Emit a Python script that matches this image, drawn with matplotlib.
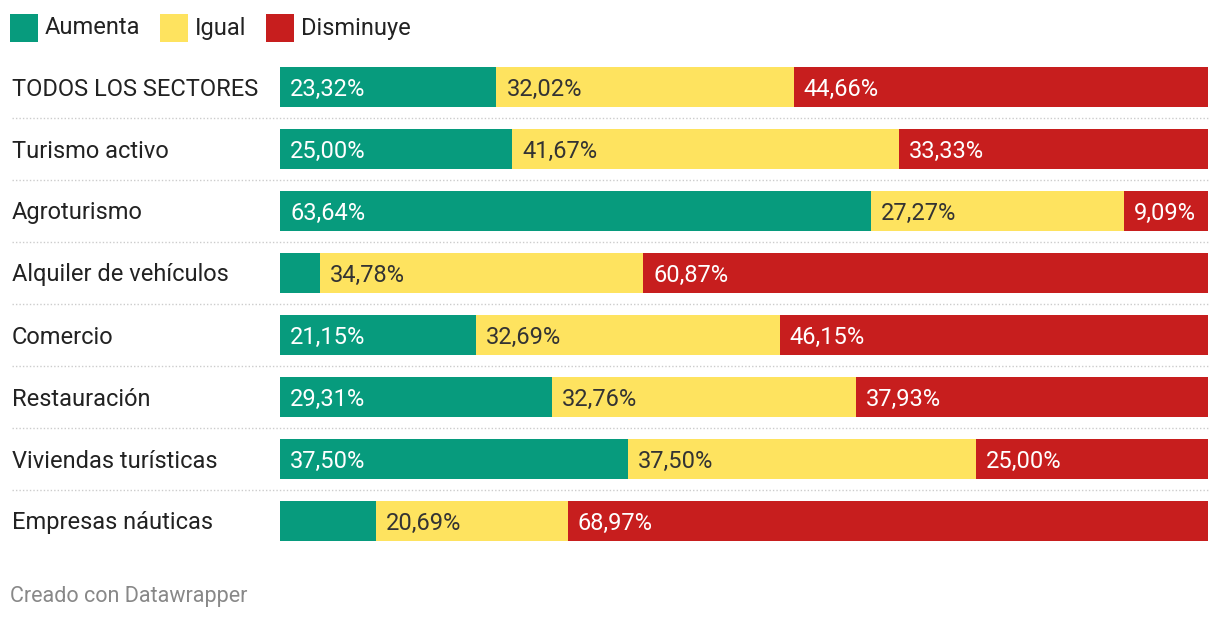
import matplotlib
matplotlib.use("Agg")
import matplotlib.pyplot as plt
from matplotlib.transforms import blended_transform_factory
from matplotlib.patches import Rectangle

plt.rcParams["font.family"] = ["Roboto", "DejaVu Sans"]

sectors = ["TODOS LOS SECTORES", "Turismo activo", "Agroturismo", "Alquiler de vehículos",
           "Comercio", "Restauración", "Viviendas turísticas", "Empresas náuticas"]
aumenta = [23.32, 25.00, 63.64, 4.35, 21.15, 29.31, 37.50, 10.34]
igual = [32.02, 41.67, 27.27, 34.78, 32.69, 32.76, 37.50, 20.69]
disminuye = [44.66, 33.33, 9.09, 60.87, 46.15, 37.93, 25.00, 68.97]
series_names = ["Aumenta", "Igual", "Disminuye"]
# labels that the original chart leaves out (segment too narrow)
hidden = {(3, 0), (7, 0)}

colors = ["#079b7d", "#fee35f", "#c71e1e"]
text_colors = ["white", "#333333", "white"]

W, H = 1220, 620
FS = 17
fig = plt.figure(figsize=(W / 100, H / 100), dpi=100)
fig.patch.set_facecolor("white")

# axes: x 280..1208 px, y 56..552 px (one row = 62 px)
ax = fig.add_axes([280 / W, 1 - 552 / H, (1208 - 280) / W, (552 - 56) / H])
ax.set_xlim(0, 100)
ax.set_ylim(len(sectors) - 0.5, -0.5)
ax.axis("off")

base_off = 8.5 / 62  # baseline sits half a cap height below the row centre

y = range(len(sectors))
left = [0] * len(sectors)
for s, vals in enumerate([aumenta, igual, disminuye]):
    ax.barh(y, vals, left=left, height=40 / 62, color=colors[s], linewidth=0)
    for i, v in enumerate(vals):
        if (i, s) in hidden:
            continue
        label = f"{v:.2f}%".replace(".", ",")
        ax.text(left[i] + 10 / 9.28, i + base_off, label, va="baseline", ha="left",
                fontsize=FS, color=text_colors[s])
    left = [l + v for l, v in zip(left, vals)]

# sector names
tr = blended_transform_factory(fig.transFigure, ax.transData)
for i, name in enumerate(sectors):
    ax.text(12 / W, i + base_off, name, transform=tr, va="baseline", ha="left",
            fontsize=FS, color="#222222")

# dotted separators between rows
for i in range(1, len(sectors)):
    ax.plot([12 / W, 1208 / W], [i - 0.5, i - 0.5], transform=tr, color="#cccccc",
            linewidth=1, linestyle=(0, (1, 1.5)), clip_on=False)

# legend
legend_x = [10, 160, 266]
for s, name in enumerate(series_names):
    x0 = legend_x[s]
    fig.add_artist(Rectangle((x0 / W, 1 - 42 / H), 28 / W, 28 / H,
                             transform=fig.transFigure, color=colors[s], linewidth=0))
    fig.text((x0 + 35) / W, 1 - 34.5 / H, name, va="baseline", ha="left",
             fontsize=FS, color="#222222")

fig.text(10 / W, 1 - 602 / H, "Creado con Datawrapper", va="baseline", ha="left",
         fontsize=15.5, color="#888888")

fig.savefig("out.png", dpi=100)
